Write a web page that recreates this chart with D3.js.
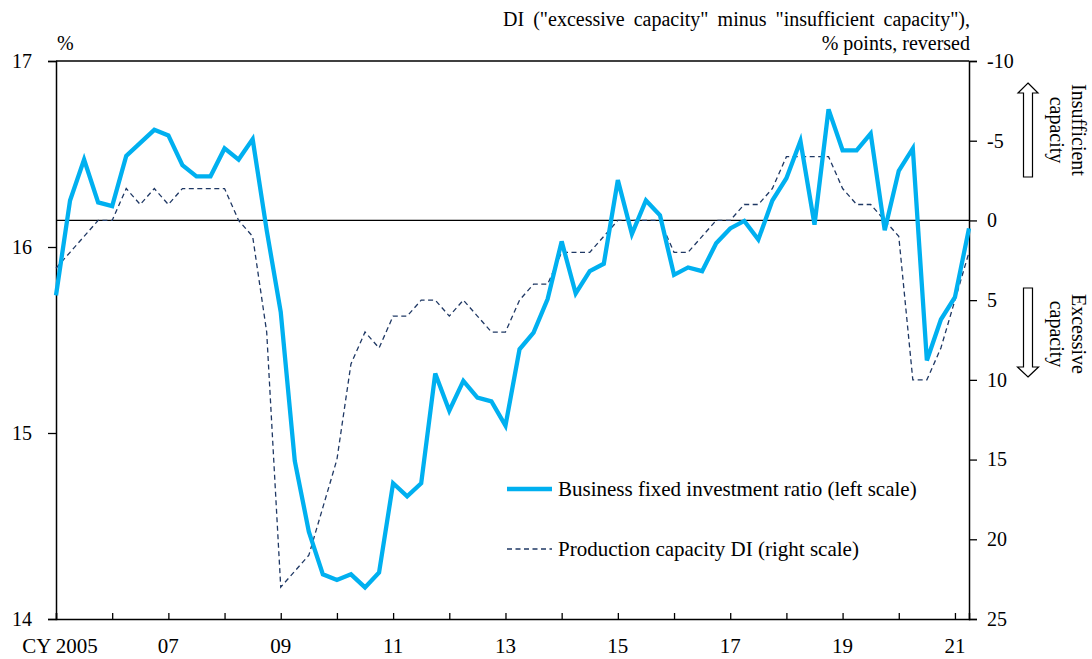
<!DOCTYPE html>
<html>
<head>
<meta charset="utf-8">
<script src="https://cdn.jsdelivr.net/npm/d3@7"></script>
<style>
  body { margin: 0; background: #fff; }
  text { font-family: "Liberation Serif", "Times New Roman", serif; fill: #000; }
</style>
</head>
<body>
<script>
// quarterly data, CY2005 Q1 .. CY2021 Q2

// business fixed investment ratio, % (left scale)
var investRatio = [
  15.74, 16.25, 16.47, 16.24, 16.22, 16.49, 16.56, 16.63, 16.60, 16.44, 16.38, 16.38,
  16.53, 16.47, 16.58, 16.09, 15.65, 14.85, 14.47, 14.24, 14.21, 14.24, 14.17, 14.25,
  14.73, 14.66, 14.73, 15.32, 15.12, 15.28, 15.19, 15.17, 15.04, 15.45, 15.54, 15.72,
  16.03, 15.75, 15.87, 15.91, 16.36, 16.07, 16.25, 16.17, 15.85, 15.89, 15.87, 16.02,
  16.10, 16.14, 16.04, 16.25, 16.37, 16.57, 16.12, 16.74, 16.52, 16.52, 16.61, 16.09,
  16.41, 16.53, 15.39, 15.61, 15.73, 16.10
];

// production capacity DI, % points (right scale, reversed)
var capacityDI = [
  3, 2, 1, 0, 0, -2, -1, -2, -1, -2, -2, -2,
  -2, 0, 1, 7, 23, 22, 21, 18, 15, 9, 7, 8,
  6, 6, 5, 5, 6, 5, 6, 7, 7, 5, 4, 4,
  2, 2, 2, 1, 0, 0, 0, 0, 2, 2, 1, 0,
  0, -1, -1, -2, -4, -4, -4, -4, -2, -1, -1, 0,
  1, 10, 10, 8, 5, 2
];

var leftTicks = [14, 15, 16, 17];
var rightTicks = [-10, -5, 0, 5, 10, 15, 20, 25];
var yearLabels = ["CY 2005", "07", "09", "11", "13", "15", "17", "19", "21"];

var seriesNames = ["Business fixed investment ratio (left scale)", "Production capacity DI (right scale)"];

var W = 1092, H = 659;
var x0 = 56, x1 = 969;
var yTop = 61, yBottom = 619;

var blue = "#00B0F0", navy = "#1F3864";

var svg = d3.select("body").append("svg")
  .attr("width", W).attr("height", H);

// scales
var x = d3.scaleLinear().domain([0, investRatio.length - 1]).range([x0, x1]);
var yL = d3.scaleLinear().domain([14, 17]).range([yBottom, yTop]);
var yR = d3.scaleLinear().domain([25, -10]).range([yBottom, yTop]);

// top frame
svg.append("line").attr("x1", x0).attr("x2", x1).attr("y1", yTop).attr("y2", yTop)
  .attr("stroke", "#000").attr("stroke-width", 1.3);

// zero line for the DI
svg.append("line").attr("x1", x0).attr("x2", x1)
  .attr("y1", yR(0)).attr("y2", yR(0))
  .attr("stroke", "#000").attr("stroke-width", 1.2);

// left axis
var leftAxis = svg.append("g")
  .attr("transform", "translate(" + x0 + ",0)")
  .call(d3.axisLeft(yL).tickValues(leftTicks).tickSize(8).tickPadding(16).tickFormat(d3.format("d")));

// right axis
var rightAxis = svg.append("g")
  .attr("transform", "translate(" + x1 + ",0)")
  .call(d3.axisRight(yR).tickValues(rightTicks).tickSize(8).tickPadding(10)
    .tickFormat(function(d) { return d < 0 ? "-" + Math.abs(d) : d; }));

// bottom axis, ticks every year pointing inward
var yearTicks = d3.range(0, investRatio.length, 4);
var bottomAxis = svg.append("g")
  .attr("transform", "translate(0," + yBottom + ")")
  .call(d3.axisBottom(x).tickValues(yearTicks).tickSize(-6).tickFormat(""));

[leftAxis, rightAxis, bottomAxis].forEach(function(g) {
  g.select(".domain").attr("stroke", "#000").attr("stroke-width", 1.5);
  g.selectAll(".tick line").attr("stroke", "#000").attr("stroke-width", 1.3);
  g.selectAll("text").style("font-size", "20px").attr("fill", "#000")
    .style("font-family", "Liberation Serif");
});

// year labels every two years
svg.append("g").selectAll("text")
  .data(yearLabels)
  .enter().append("text")
  .attr("x", function(d, i) { return x(i * 8) + (i == 0 ? 4 : 0); })
  .attr("y", 653)
  .attr("text-anchor", "middle")
  .style("font-size", "21px")
  .text(function(d) { return d; });

// DI line (dashed)
var lineR = d3.line()
  .x(function(d, i) { return x(i); })
  .y(function(d) { return yR(d); });

svg.append("path")
  .datum(capacityDI)
  .attr("d", lineR)
  .attr("fill", "none")
  .attr("stroke", navy)
  .attr("stroke-width", 1.3)
  .attr("stroke-dasharray", "5,3.5");

// investment ratio line
var lineL = d3.line()
  .x(function(d, i) { return x(i); })
  .y(function(d) { return yL(d); });

svg.append("path")
  .datum(investRatio)
  .attr("d", lineL)
  .attr("fill", "none")
  .attr("stroke", blue)
  .attr("stroke-width", 4.3)
  .attr("stroke-linejoin", "miter");

// unit labels
svg.append("text").attr("x", 57).attr("y", 50)
  .style("font-size", "20px").text("%");

var t1 = svg.append("text").attr("x", 970).attr("y", 26)
  .attr("text-anchor", "end").style("font-size", "20px")
  .text('DI ("excessive capacity" minus "insufficient capacity"),');
var natural = t1.node().getComputedTextLength();
t1.style("word-spacing", Math.max(0, (467 - natural) / 5) + "px");

svg.append("text").attr("x", 970).attr("y", 50)
  .attr("text-anchor", "end").style("font-size", "20px")
  .text("% points, reversed");

// legend
var legend = svg.append("g");
legend.append("line").attr("x1", 507).attr("x2", 552).attr("y1", 489).attr("y2", 489)
  .attr("stroke", blue).attr("stroke-width", 4.3);
legend.append("text").attr("x", 558).attr("y", 496)
  .style("font-size", "21px").text(seriesNames[0]);
legend.append("line").attr("x1", 507).attr("x2", 552).attr("y1", 549).attr("y2", 549)
  .attr("stroke", navy).attr("stroke-width", 1.3).attr("stroke-dasharray", "5,3.5");
legend.append("text").attr("x", 558).attr("y", 556)
  .style("font-size", "21px").text(seriesNames[1]);

// outline arrows on the right
function arrowPath(cx, yTip, yHead, yEnd, shaftW, headW) {
  var s = shaftW / 2, h = headW / 2;
  return "M" + cx + "," + yTip +
    "L" + (cx + h) + "," + yHead +
    "L" + (cx + s) + "," + yHead +
    "L" + (cx + s) + "," + yEnd +
    "L" + (cx - s) + "," + yEnd +
    "L" + (cx - s) + "," + yHead +
    "L" + (cx - h) + "," + yHead + "Z";
}
svg.append("path").attr("d", arrowPath(1028, 83, 93, 177, 9, 20))
  .attr("fill", "#fff").attr("stroke", "#000").attr("stroke-width", 1.2);
svg.append("path").attr("d", arrowPath(1028, 377, 367, 288, 9, 21))
  .attr("fill", "#fff").attr("stroke", "#000").attr("stroke-width", 1.2);

function sideLabel(lines, cy) {
  var g = svg.append("g").attr("transform", "translate(1072," + cy + ") rotate(90)");
  lines.forEach(function(s, i) {
    g.append("text").attr("x", 0).attr("y", i * 22)
      .attr("text-anchor", "middle").style("font-size", "20px").text(s);
  });
}
sideLabel(["Insufficient", "capacity"], 130);
sideLabel(["Excessive", "capacity"], 334);
</script>
</body>
</html>
